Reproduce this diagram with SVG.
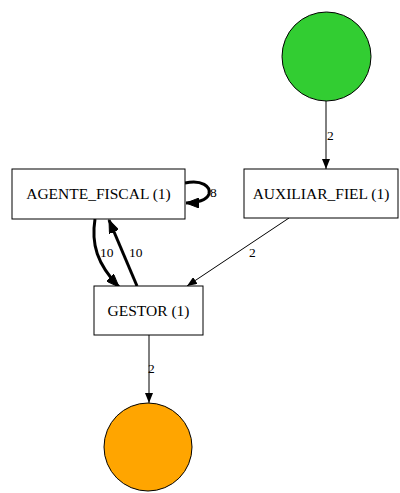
<svg xmlns="http://www.w3.org/2000/svg" width="400" height="493" viewBox="0 0 400 493">
<style>
.node{fill:#fff;stroke:#000;stroke-width:1}
.lbl{font-family:"Liberation Serif","Times New Roman","DejaVu Serif",serif;font-size:15.5px;text-anchor:middle;fill:#000}
.elbl{font-family:"Liberation Serif","Times New Roman","DejaVu Serif",serif;font-size:13.5px;fill:#000}
.e{fill:none;stroke:#000;stroke-width:1}
.eb{fill:none;stroke:#000;stroke-width:3}
</style>
<defs>
<marker id="a" markerWidth="10" markerHeight="8" refX="10" refY="4" orient="auto" markerUnits="userSpaceOnUse">
<path d="M0,0 L10,4 L0,8 Z" fill="#000"/>
</marker>
<marker id="ab" markerWidth="14" markerHeight="10" refX="13" refY="5" orient="auto" markerUnits="userSpaceOnUse">
<path d="M0,0 L13,5 L0,10 Z" fill="#000" stroke="#000" stroke-width="1"/>
</marker>
</defs>
<rect width="400" height="493" fill="#fff"/>
<g id="connectors">
<path class="e" d="M326,101 L326,169" marker-end="url(#a)"/>
<text class="elbl" x="327" y="140">2</text>
<path class="e" d="M289,218 L187,286" marker-end="url(#a)"/>
<text class="elbl" x="249" y="257">2</text>
<path class="eb" d="M95,219 C91,244 97,264 119,287" marker-end="url(#ab)"/>
<text class="elbl" x="100" y="257">10</text>
<path class="eb" d="M137,286 L109,220" marker-end="url(#ab)"/>
<text class="elbl" x="129" y="257">10</text>
<path class="eb" d="M185,183 C202,179 211,187 209,194 C207,200 197,203 186,203" marker-end="url(#ab)"/>
<text class="elbl" x="210" y="197">8</text>
<path class="e" d="M149,335 L149,403" marker-end="url(#a)"/>
<text class="elbl" x="148" y="373">2</text>
</g>
<g id="start"><circle cx="326.5" cy="56.5" r="44.5" fill="#32cd32" stroke="#000"/></g>
<g id="end"><circle cx="148" cy="447" r="44" fill="#ffa500" stroke="#000"/></g>
<g id="agente_fiscal"><rect class="node" x="12" y="169" width="173" height="50"/><text class="lbl" x="98.5" y="199">AGENTE_FISCAL (1)</text></g>
<g id="auxiliar_fiel"><rect class="node" x="244" y="169" width="154" height="49"/><text class="lbl" x="321" y="199">AUXILIAR_FIEL (1)</text></g>
<g id="gestor"><rect class="node" x="94" y="286" width="109" height="49"/><text class="lbl" x="148.5" y="316">GESTOR (1)</text></g>
</svg>
